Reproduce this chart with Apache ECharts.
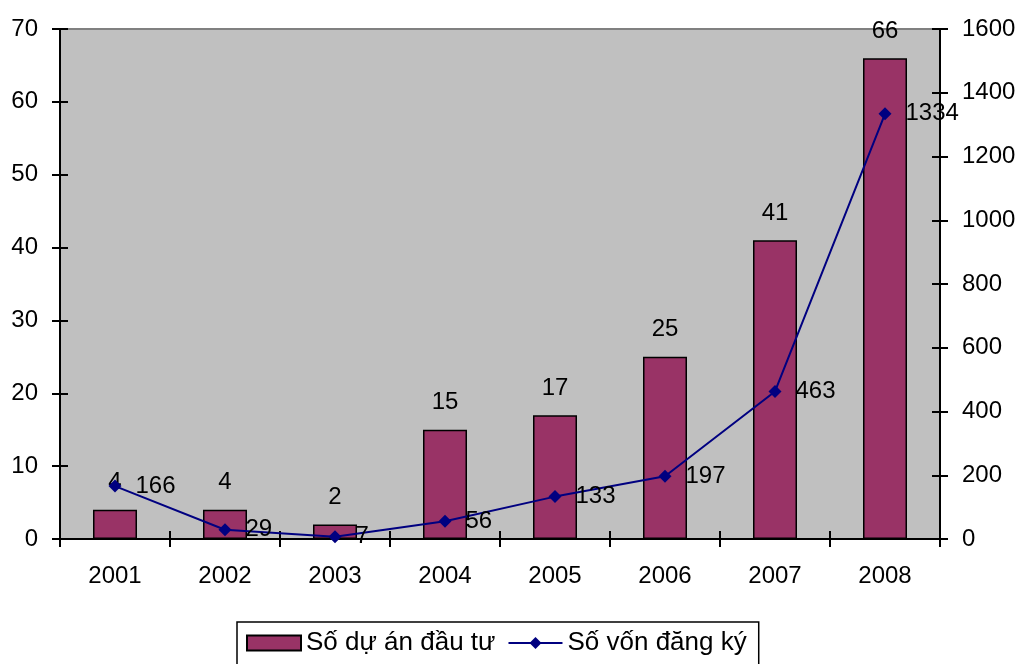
<!DOCTYPE html>
<html>
<head>
<meta charset="utf-8">
<script src="https://cdn.jsdelivr.net/npm/echarts@6/dist/echarts.min.js"></script>
<style>
  html, body { margin: 0; padding: 0; background: #ffffff; overflow: hidden; }
  #chart { width: 1020px; height: 664px; }
</style>
</head>
<body>
<div id="chart"></div>
<script>
// Foreign investment projects and registered capital by year
const years = ['2001', '2002', '2003', '2004', '2005', '2006', '2007', '2008'];
const projectCounts = [4, 4, 2, 15, 17, 25, 41, 66];
const registeredCapital = [166, 29, 7, 56, 133, 197, 463, 1334];
const barName = 'Số dự án đầu tư';
const lineName = 'Số vốn đăng ký';

const FONT = 'Liberation Sans, Arial, sans-serif';
const FS = 24;

const chart = echarts.init(document.getElementById('chart'), null, {
  renderer: 'canvas', width: 1020, height: 664
});

// Excel-style ticks that cross the axis line: one axis draws outward ticks,
// a twin axis at the same spot draws inward ticks.
function valueAxis(position, max, interval, withLabels, inside) {
  return {
    type: 'value',
    position: position,
    min: 0,
    max: max,
    interval: interval,
    splitLine: { show: false },
    axisLine: { show: true, lineStyle: { color: '#000', width: 2 } },
    axisTick: { show: true, inside: inside, length: 8, lineStyle: { color: '#000', width: 2 } },
    axisLabel: {
      show: withLabels,
      margin: 22,
      color: '#000',
      fontFamily: FONT,
      fontSize: FS,
      formatter: function (v) { return String(v); }
    }
  };
}

function categoryAxis(withLabels, inside) {
  return {
    type: 'category',
    data: years,
    position: 'bottom',
    boundaryGap: true,
    axisLine: { show: true, lineStyle: { color: '#000', width: 2 } },
    axisTick: { show: true, inside: inside, length: 8, lineStyle: { color: '#000', width: 2 } },
    axisLabel: {
      show: withLabels,
      margin: 25,
      color: '#000',
      fontFamily: FONT,
      fontSize: FS
    }
  };
}

chart.setOption({
  animation: false,
  backgroundColor: '#ffffff',
  grid: {
    left: 60,
    right: 80,
    top: 29,
    bottom: 125,
    show: true,
    backgroundColor: '#C0C0C0',
    borderColor: '#808080',
    borderWidth: 2
  },
  legend: {
    left: 237,
    top: 622,
    padding: [8, 12, 30, 9],
    borderColor: '#000',
    borderWidth: 1.5,
    backgroundColor: '#ffffff',
    itemWidth: 54,
    itemHeight: 15,
    itemGap: 12,
    textStyle: { color: '#000', fontFamily: FONT, fontSize: 26 },
    data: [
      { name: barName, icon: 'rect' },
      { name: lineName }
    ]
  },
  xAxis: [categoryAxis(true, false), categoryAxis(false, true)],
  yAxis: [
    valueAxis('left', 70, 10, true, false),
    valueAxis('right', 1600, 200, true, false),
    valueAxis('left', 70, 10, false, true),
    valueAxis('right', 1600, 200, false, true)
  ],
  series: [
    {
      name: barName,
      type: 'bar',
      xAxisIndex: 0,
      yAxisIndex: 0,
      data: projectCounts,
      barWidth: 44,
      itemStyle: { color: '#993366', borderColor: '#000', borderWidth: 1.5 },
      label: {
        show: true,
        position: 'top',
        distance: 15,
        color: '#000',
        fontFamily: FONT,
        fontSize: FS
      }
    },
    {
      name: lineName,
      type: 'line',
      xAxisIndex: 0,
      yAxisIndex: 1,
      data: registeredCapital,
      symbol: 'diamond',
      symbolSize: 13,
      lineStyle: { color: '#000080', width: 2 },
      itemStyle: { color: '#000080' },
      label: {
        show: true,
        position: 'right',
        distance: 14,
        color: '#000',
        fontFamily: FONT,
        fontSize: FS
      },
      z: 5
    }
  ]
});
</script>
</body>
</html>
